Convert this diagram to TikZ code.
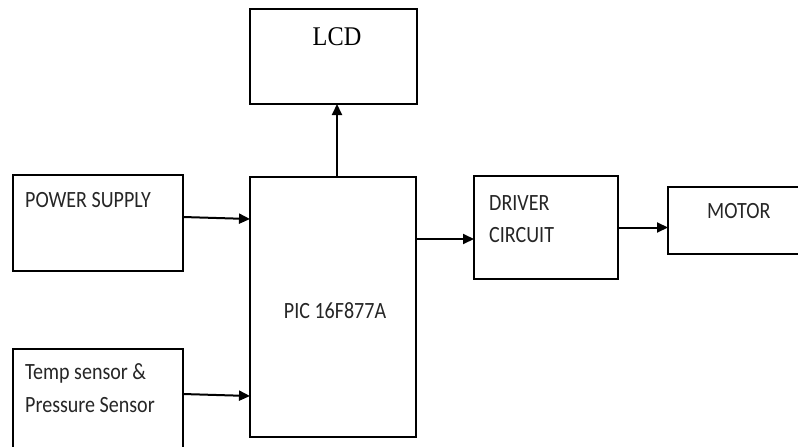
\documentclass[tikz,border=0pt]{standalone}
\usepackage{fontspec}
\setmainfont{Carlito}[FakeStretch=0.86]
\newfontfamily\lcdfont{Liberation Serif}[FakeStretch=0.9]
\usetikzlibrary{arrows.meta}
\begin{document}
\begin{tikzpicture}[x=1pt,y=-1pt,
  box/.style={draw, line width=2pt, inner sep=0pt, outer sep=0pt, anchor=north west},
  lbl/.style={font=\fontsize{23.3}{27}\selectfont, anchor=base west, inner sep=0pt, text=black!85},
  conn/.style={line width=2pt, -{Triangle[length=11pt,width=10pt]}}]
\useasboundingbox (0,0) rectangle (798,447);
\fill[white] (0,0) rectangle (798,447);
% boxes
\node[box, minimum width=167pt, minimum height=95pt] (lcd) at (250,9) {};
\node[box, minimum width=170pt, minimum height=96pt] (ps) at (13,175) {};
\node[box, minimum width=170pt, minimum height=104pt] (temp) at (13,349) {};
\node[box, minimum width=166pt, minimum height=260pt] (pic) at (250,177) {};
\node[box, minimum width=144pt, minimum height=103pt] (drv) at (474,176) {};
\node[box, minimum width=140pt, minimum height=67pt] (mot) at (668,187) {};
% labels
\node[inner sep=0pt, anchor=base, font=\lcdfont\fontsize{27}{31}\selectfont] (lcdt) at (337,45) {LCD};
\node[lbl] (pst) at (25,207) {POWER SUPPLY};
\node[lbl] (tt1) at (25,379) {Temp sensor \&};
\node[lbl] (tt2) at (25,412) {Pressure Sensor};
\node[lbl, anchor=base] (pict) at (335,318) {PIC 16F877A};
\node[lbl] (dt1) at (489,210) {DRIVER};
\node[lbl] (dt2) at (489,242) {CIRCUIT};
\node[lbl] (mt) at (707,218) {MOTOR};
% connectors
\draw[conn] ([yshift=6pt]ps.east) -- ([yshift=4pt]ps.east -| pic.west);
\draw[conn] ([yshift=7pt]temp.east) -- ([yshift=5pt]temp.east -| pic.west);
\draw[conn] ([xshift=4pt]pic.north) -- ([xshift=4pt]pic.north |- lcd.south);
\draw[conn] ([yshift=-11.5pt]drv.west -| pic.east) -- ([yshift=-11.5pt]drv.west);
\draw[conn] (drv.east) -- (drv.east -| mot.west);
\end{tikzpicture}
\end{document}
